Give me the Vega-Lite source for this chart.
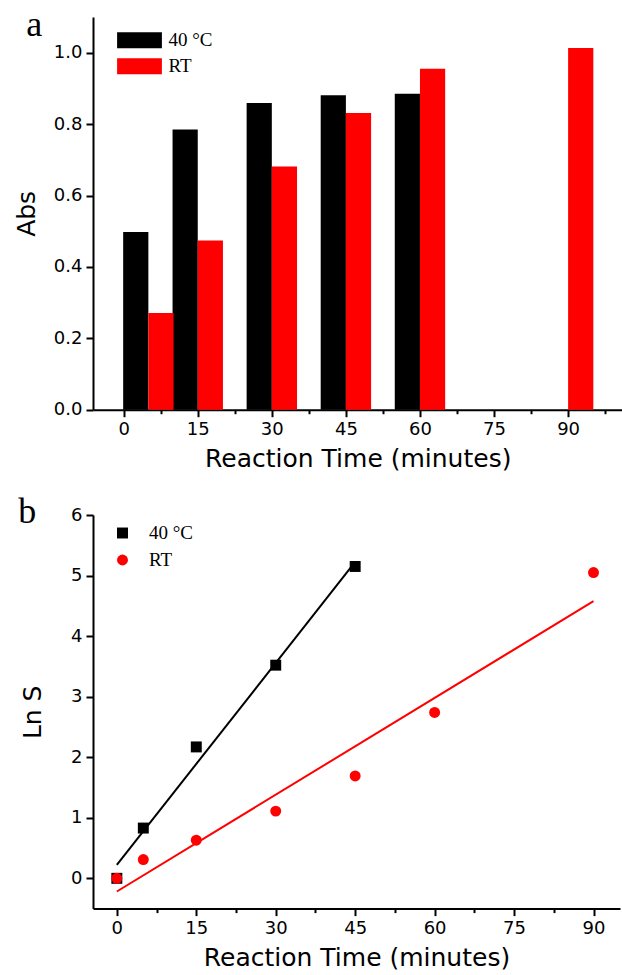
{
  "$schema": "https://vega.github.io/schema/vega-lite/v6.json",
  "background": "white",
  "padding": {"left": 14, "top": 6, "right": 0, "bottom": 0},
  "spacing": 22,
  "resolve": {"scale": {"color": "independent", "shape": "independent"}, "legend": {"color": "independent", "shape": "independent"}},
  "config": {
    "view": {"stroke": null},
    "axis": {
      "grid": false,
      "domainColor": "black",
      "domainWidth": 2,
      "tickColor": "black",
      "tickWidth": 2,
      "labelColor": "black",
      "titleColor": "black",
      "labelFont": "DejaVu Sans",
      "labelFontSize": 18,
      "titleFont": "DejaVu Sans",
      "titleFontSize": 25,
      "titleFontWeight": "normal",
      "labelPadding": 4
    }
  },
  "datasets": {
    "bars": [
      {"time": 5, "series": "40 °C", "abs": 0.498},
      {"time": 15, "series": "40 °C", "abs": 0.785},
      {"time": 30, "series": "40 °C", "abs": 0.859},
      {"time": 45, "series": "40 °C", "abs": 0.881},
      {"time": 60, "series": "40 °C", "abs": 0.885},
      {"time": 5, "series": "RT", "abs": 0.271},
      {"time": 15, "series": "RT", "abs": 0.474},
      {"time": 30, "series": "RT", "abs": 0.681},
      {"time": 45, "series": "RT", "abs": 0.831},
      {"time": 60, "series": "RT", "abs": 0.955},
      {"time": 90, "series": "RT", "abs": 1.013}
    ],
    "lns": [
      {"time": 0, "series": "40 °C", "lnS": 0},
      {"time": 5, "series": "40 °C", "lnS": 0.83},
      {"time": 15, "series": "40 °C", "lnS": 2.17},
      {"time": 30, "series": "40 °C", "lnS": 3.52},
      {"time": 45, "series": "40 °C", "lnS": 5.15},
      {"time": 0, "series": "RT", "lnS": 0},
      {"time": 5, "series": "RT", "lnS": 0.31},
      {"time": 15, "series": "RT", "lnS": 0.63},
      {"time": 30, "series": "RT", "lnS": 1.11},
      {"time": 45, "series": "RT", "lnS": 1.69},
      {"time": 60, "series": "RT", "lnS": 2.74},
      {"time": 90, "series": "RT", "lnS": 5.05}
    ]
  },
  "vconcat": [
    {
      "width": 529.5,
      "height": 392.7,
      "layer": [
        {
          "data": {"name": "bars"},
          "transform": [{"filter": "datum.series === '40 °C'"}],
          "mark": {"type": "bar", "width": 25.2, "xOffset": -12.6},
          "encoding": {
            "x": {
              "field": "time", "type": "quantitative",
              "scale": {"domain": [-5.2, 100], "nice": false, "zero": false},
              "axis": {
                "title": "Reaction Time (minutes)",
                "values": [0, 7.5, 15, 22.5, 30, 37.5, 45, 52.5, 60, 67.5, 75, 82.5, 90, 97.5],
                "labelExpr": "datum.value % 15 === 0 ? datum.label : ''",
                "tickSize": {"condition": {"test": "datum.value % 15 === 0", "value": 7}, "value": 4},
                "titlePadding": 8
              }
            },
            "y": {
              "field": "abs", "type": "quantitative",
              "scale": {"domain": [0, 1.1], "nice": false},
              "axis": {
                "title": "Abs",
                "values": [0, 0.1, 0.2, 0.3, 0.4, 0.5, 0.6, 0.7, 0.8, 0.9, 1.0, 1.1],
                "format": ".1f",
                "labelExpr": "round(datum.value * 10) % 2 === 0 ? datum.label : ''",
                "tickSize": {"condition": {"test": "round(datum.value * 10) % 2 === 0", "value": 7}, "value": 4},
                "titlePadding": 14
              }
            },
            "color": {
              "field": "series", "type": "nominal",
              "scale": {"domain": ["40 °C", "RT"], "range": ["#000000", "#ff0000"]},
              "legend": {
                "orient": "none", "legendX": 37, "legendY": 13.8, "title": null,
                "symbolType": "M-2.8,-1H2.8V1H-2.8Z", "symbolSize": 256, "symbolStrokeWidth": 0,
                "symbolOpacity": 1,
                "labelFont": "Liberation Serif", "labelFontSize": 19, "labelColor": "black",
                "labelOffset": 19.4, "rowPadding": 6, "padding": 0
              }
            }
          }
        },
        {
          "data": {"name": "bars"},
          "transform": [{"filter": "datum.series === 'RT'"}],
          "mark": {"type": "bar", "width": 25.2, "xOffset": 12.6},
          "encoding": {
            "x": {"field": "time", "type": "quantitative"},
            "y": {"field": "abs", "type": "quantitative"},
            "color": {"field": "series", "type": "nominal"}
          }
        },
        {
          "data": {"values": [{"label": "a"}]},
          "mark": {"type": "text", "font": "Liberation Serif", "fontSize": 36, "align": "center", "baseline": "alphabetic", "color": "black"},
          "encoding": {
            "x": {"datum": -18.1, "type": "quantitative"},
            "y": {"datum": 1.048, "type": "quantitative"},
            "text": {"field": "label"}
          }
        }
      ]
    },
    {
      "width": 527,
      "height": 393.6,
      "layer": [
        {
          "data": {"name": "lns"},
          "transform": [{"filter": "datum.series === '40 °C'"}, {"regression": "lnS", "on": "time"}],
          "mark": {"type": "line", "color": "#000000", "strokeWidth": 2},
          "encoding": {
            "x": {
              "field": "time", "type": "quantitative",
              "scale": {"domain": [-4.5, 95], "nice": false, "zero": false},
              "axis": {
                "title": "Reaction Time (minutes)",
                "values": [0, 7.5, 15, 22.5, 30, 37.5, 45, 52.5, 60, 67.5, 75, 82.5, 90],
                "labelExpr": "datum.value % 15 === 0 ? datum.label : ''",
                "tickSize": {"condition": {"test": "datum.value % 15 === 0", "value": 7}, "value": 4},
                "titlePadding": 8
              }
            },
            "y": {
              "field": "lnS", "type": "quantitative",
              "scale": {"domain": [-0.5, 6], "nice": false, "zero": false},
              "axis": {
                "title": "Ln S",
                "values": [0, 0.5, 1, 1.5, 2, 2.5, 3, 3.5, 4, 4.5, 5, 5.5, 6],
                "format": ".0f",
                "labelExpr": "datum.value % 1 === 0 ? datum.label : ''",
                "tickSize": {"condition": {"test": "datum.value % 1 === 0", "value": 7}, "value": 4},
                "titlePadding": 25
              }
            }
          }
        },
        {
          "data": {"name": "lns"},
          "transform": [{"filter": "datum.series === 'RT'"}, {"regression": "lnS", "on": "time"}],
          "mark": {"type": "line", "color": "#ff0000", "strokeWidth": 2},
          "encoding": {
            "x": {"field": "time", "type": "quantitative"},
            "y": {"field": "lnS", "type": "quantitative"}
          }
        },
        {
          "data": {"name": "lns"},
          "mark": {"type": "point", "filled": true, "size": 120, "opacity": 1},
          "encoding": {
            "x": {"field": "time", "type": "quantitative"},
            "y": {"field": "lnS", "type": "quantitative"},
            "color": {
              "field": "series", "type": "nominal",
              "scale": {"domain": ["40 °C", "RT"], "range": ["#000000", "#ff0000"]},
              "legend": {
                "orient": "none", "legendX": 20, "legendY": 8.5, "title": null,
                "symbolSize": 120, "symbolStrokeWidth": 0, "symbolOpacity": 1,
                "labelFont": "Liberation Serif", "labelFontSize": 19, "labelColor": "black",
                "labelOffset": 17, "rowPadding": 7, "padding": 0
              }
            },
            "shape": {
              "field": "series", "type": "nominal",
              "scale": {"domain": ["40 °C", "RT"], "range": ["square", "circle"]},
              "legend": {
                "orient": "none", "legendX": 20, "legendY": 8.5, "title": null,
                "symbolSize": 120, "symbolStrokeWidth": 0, "symbolOpacity": 1,
                "labelFont": "Liberation Serif", "labelFontSize": 19, "labelColor": "black",
                "labelOffset": 17, "rowPadding": 7, "padding": 0
              }
            }
          }
        },
        {
          "data": {"values": [{"label": "b"}]},
          "mark": {"type": "text", "font": "Liberation Serif", "fontSize": 36, "align": "center", "baseline": "alphabetic", "color": "black"},
          "encoding": {
            "x": {"datum": -16.9, "type": "quantitative"},
            "y": {"datum": 5.866, "type": "quantitative"},
            "text": {"field": "label"}
          }
        }
      ]
    }
  ]
}
